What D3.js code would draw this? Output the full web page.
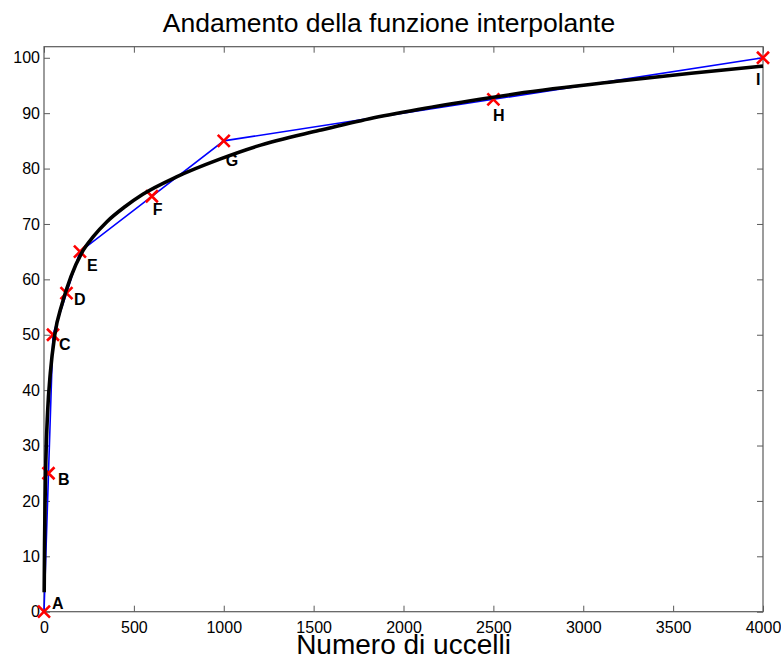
<!DOCTYPE html>
<html>
<head>
<meta charset="utf-8">
<script src="https://cdn.jsdelivr.net/npm/d3@7"></script>
<style>
  html, body { margin: 0; padding: 0; background: #fff; }
  svg { display: block; font-family: "Liberation Sans", Arial, sans-serif; }
</style>
</head>
<body>
<div id="graphic"></div>
<script>
// measured points (number of birds vs. value)
var pointX = [0, 25, 50, 125, 200, 600, 1000, 2500, 4000];
var pointY = [0, 25, 50, 57.5, 65, 75, 85, 92.5, 100];
var pointNames = ["A", "B", "C", "D", "E", "F", "G", "H", "I"];
// where each letter sits, in data units
var labelX = [44, 78, 83, 167, 239, 605, 1011, 2498, 3961];
var labelY = [1.6, 23.9, 48.3, 56.4, 62.5, 72.7, 81.5, 89.6, 96.2];

// interpolating function
var curveX = [1, 3, 6, 10, 20, 35, 60, 100, 150, 210, 274, 350, 450, 552, 737, 978, 1182, 1533, 1811, 2089, 2425, 2626, 3204, 3600, 4000];
var curveY = [3.5, 12, 20, 27, 36, 43, 50, 55.5, 60.5, 64.8, 67.7, 70.4, 73.1, 75.4, 78.5, 81.7, 84.0, 86.9, 89.0, 90.7, 92.5, 93.5, 95.8, 97.2, 98.5];

var xTickValues = [0, 500, 1000, 1500, 2000, 2500, 3000, 3500, 4000];
var yTickValues = [0, 10, 20, 30, 40, 50, 60, 70, 80, 90, 100];

var titleText = "Andamento della funzione interpolante";
var xLabelText = "Numero di uccelli";

render();

function render() {
    var W = 781, H = 664;
    var margin = {top: 46.7, right: 18, bottom: 52.3, left: 44};
    var w = W - margin.left - margin.right,
        h = H - margin.top - margin.bottom;

    var svg = d3.select("#graphic").append("svg")
        .attr("width", W)
        .attr("height", H);

    var g = svg.append("g")
        .attr("transform", "translate(" + margin.left + "," + margin.top + ")");

    var x = d3.scaleLinear().domain([0, 4000]).range([0, w]);
    var y = d3.scaleLinear().domain([0, 102]).range([h, 0]);

    var axisColor = "#5a5a5a";
    var tick = 6;
    var fmt = d3.format("d");

    //axes: ticks point inward on all four sides
    var bottom = g.append("g")
        .attr("transform", "translate(0," + h + ")")
        .call(d3.axisBottom(x).tickValues(xTickValues).tickFormat(fmt).tickSizeInner(-tick).tickSizeOuter(0).tickPadding(10));
    var top = g.append("g")
        .call(d3.axisTop(x).tickValues(xTickValues).tickSizeInner(-tick).tickSizeOuter(0).tickFormat(""));
    var left = g.append("g")
        .call(d3.axisLeft(y).tickValues(yTickValues).tickFormat(fmt).tickSizeInner(-tick).tickSizeOuter(0).tickPadding(4));
    var right = g.append("g")
        .attr("transform", "translate(" + w + ",0)")
        .call(d3.axisRight(y).tickValues(yTickValues).tickSizeInner(-tick).tickSizeOuter(0).tickFormat(""));

    [bottom, top, left, right].forEach(function(a) {
        a.select(".domain").remove();
        a.selectAll("line").attr("stroke", axisColor);
        a.selectAll("text")
            .attr("fill", "#000")
            .style("font-size", "16px")
            .style("font-family", "'Liberation Sans', Arial, sans-serif");
    });

    // box
    g.append("rect")
        .attr("x", 0).attr("y", 0)
        .attr("width", w).attr("height", h)
        .attr("fill", "none")
        .attr("stroke", axisColor)
        .attr("stroke-width", 1.2);

    var pts = pointX.map(function(d, i) { return {x: d, y: pointY[i]}; });
    var curvePts = curveX.map(function(d, i) { return {x: d, y: curveY[i]}; });

    // blue polyline through the points
    var poly = d3.line()
        .x(function(d) { return x(d.x); })
        .y(function(d) { return y(d.y); });

    g.append("path")
        .datum(pts)
        .attr("d", poly)
        .attr("fill", "none")
        .attr("stroke", "#0000ff")
        .attr("stroke-width", 1.6);

    // red crosses
    var s = 6;
    g.selectAll(".mark")
        .data(pts)
        .enter().append("path")
        .attr("class", "mark")
        .attr("d", function(d) {
            var cx = x(d.x), cy = y(d.y);
            return "M" + (cx - s) + "," + (cy - s) + "L" + (cx + s) + "," + (cy + s) +
                   "M" + (cx - s) + "," + (cy + s) + "L" + (cx + s) + "," + (cy - s);
        })
        .attr("stroke", "#ff0000")
        .attr("stroke-width", 2.6)
        .attr("fill", "none");

    // black interpolating curve
    var smooth = d3.line()
        .curve(d3.curveMonotoneX)
        .x(function(d) { return x(d.x); })
        .y(function(d) { return y(d.y); });

    g.append("path")
        .datum(curvePts)
        .attr("d", smooth)
        .attr("fill", "none")
        .attr("stroke", "#000")
        .attr("stroke-width", 3.6)
        .attr("stroke-linejoin", "round");

    // letters
    g.selectAll(".lbl")
        .data(pointNames)
        .enter().append("text")
        .attr("class", "lbl")
        .attr("x", function(d, i) { return x(labelX[i]); })
        .attr("y", function(d, i) { return y(labelY[i]); })
        .attr("dy", "0.36em")
        .style("font-size", "16px")
        .style("font-weight", "bold")
        .text(function(d) { return d; });

    // title and x label
    svg.append("text")
        .attr("x", 389)
        .attr("y", 32)
        .attr("text-anchor", "middle")
        .style("font-size", "26.5px")
        .text(titleText);

    svg.append("text")
        .attr("x", margin.left + w / 2)
        .attr("y", 654)
        .attr("text-anchor", "middle")
        .style("font-size", "28px")
        .text(xLabelText);
}
</script>
</body>
</html>
